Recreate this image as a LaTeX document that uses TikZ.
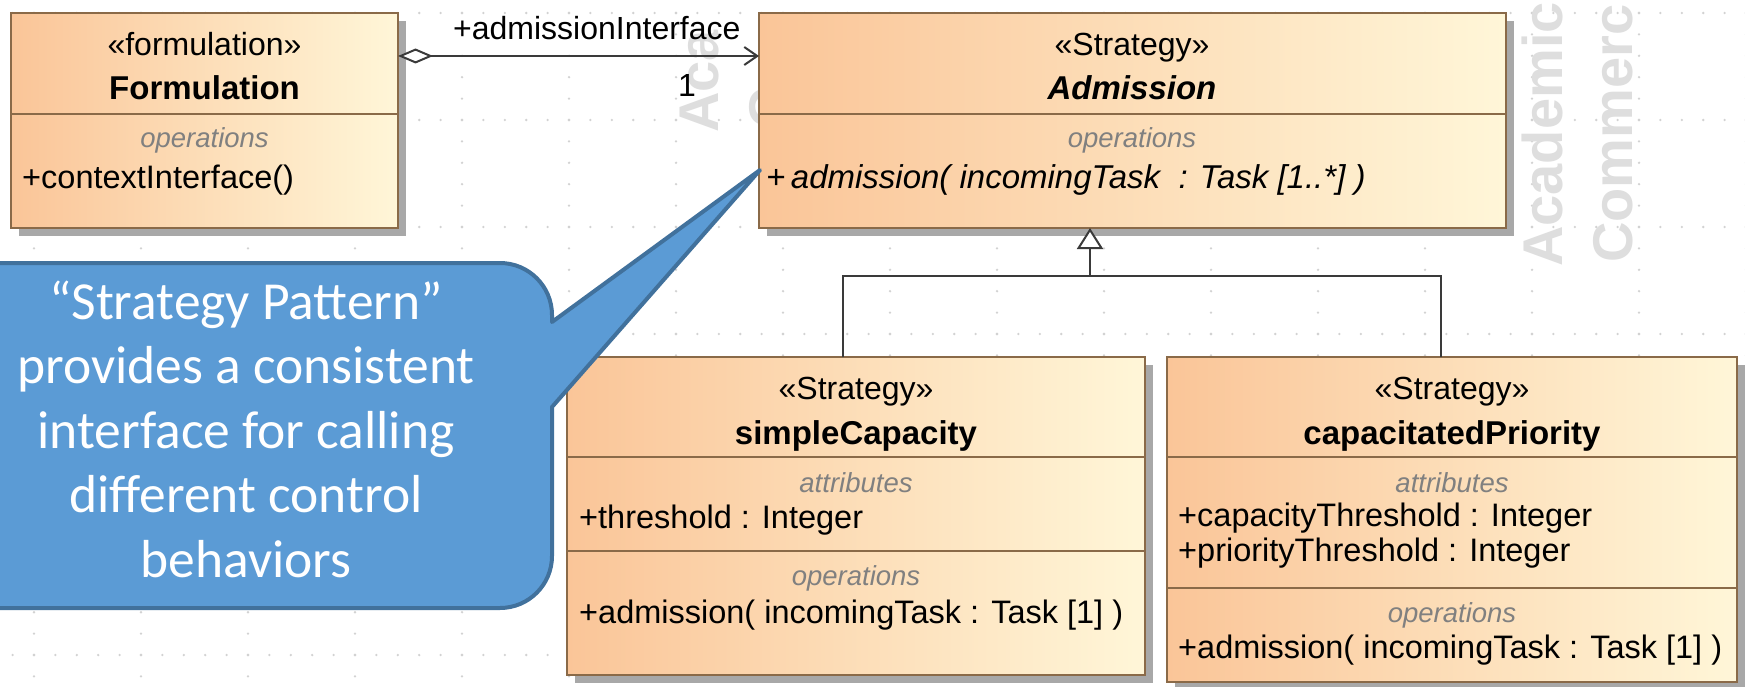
\documentclass[tikz,border=0pt]{standalone}
\usepackage{fontspec}
\setmainfont{Liberation Sans}
\newfontfamily\calfont{Carlito}
\usetikzlibrary{arrows.meta,shadows,calc}
\definecolor{boxL}{HTML}{FAC598}
\definecolor{boxR}{HTML}{FFF6D8}
\definecolor{boxBorder}{HTML}{8A6A48}
\definecolor{shadowC}{HTML}{A8A8A8}
\definecolor{lineC}{HTML}{3A3A3A}
\definecolor{secC}{HTML}{808080}
\definecolor{calloutFill}{HTML}{5B9BD5}
\definecolor{calloutLine}{HTML}{41719C}
\definecolor{wmC}{HTML}{DEDEDE}
\definecolor{dotC}{HTML}{D2D2D2}
\begin{document}
\begin{tikzpicture}[x=1pt,y=-1pt,
  classbox/.style={draw=boxBorder, line width=2pt, left color=boxL, right color=boxR,
    inner sep=0pt, outer sep=0pt, anchor=north west,
    drop shadow={shadow xshift=8pt, shadow yshift=-8pt, fill=shadowC, opacity=1}},
  sepline/.style={draw=boxBorder, line width=2pt},
  ctext/.style={font=\fontsize{32}{38}\selectfont, inner sep=0pt, anchor=base, text=black},
  cname/.style={font=\fontsize{33}{38}\selectfont\bfseries, inner sep=0pt, anchor=base, text=black},
  sect/.style={font=\fontsize{27.5}{32}\selectfont\itshape, inner sep=0pt, anchor=base, text=secC},
  member/.style={font=\fontsize{32.5}{38}\selectfont, inner sep=0pt, anchor=base west, text=black},
  umlline/.style={draw=lineC, line width=2pt},
  wm/.style={font=\fontsize{56}{60}\selectfont\bfseries, text=wmC, inner sep=0pt, rotate=90, anchor=base west},
  callout/.style={fill=calloutFill, draw=calloutLine, line width=4pt, line join=round},
  calltext/.style={font=\calfont\fontsize{53.5}{64.5}\selectfont, text=white, align=center, inner sep=0pt}
]
\useasboundingbox (0,0) rectangle (1745,687);
\clip (0,0) rectangle (1745,687);
\fill[white] (0,0) rectangle (1745,687);
% dotted grid
\foreach \r in {13,120,...,655}{
  \foreach \i in {0,...,81}{\fill[dotC] ({12.6+21.4*\i},\r) circle (1.3pt);}
}
\foreach \c in {0,...,16}{
  \foreach \j in {0,...,31}{\fill[dotC] ({34+107*\c},{13+21.4*\j}) circle (1.3pt);}
}
% watermarks
\node[wm] (wmA1) at (718,133) {Aca};
\node[wm] (wmC1) at (788,129) {C};
\node[wm] (wmA2) at (1562,267) {Academic};
\node[wm] (wmC2) at (1632,263) {Commerc};
% class boxes
\node[classbox, minimum width=387pt, minimum height=215pt] (form) at (11,13) {};
\node[classbox, minimum width=747pt, minimum height=215pt] (adm) at (759,13) {};
\node[classbox, minimum width=578pt, minimum height=318pt] (sc) at (567,357) {};
\node[classbox, minimum width=570pt, minimum height=325pt] (cp) at (1167,357) {};
% separators
\draw[sepline] (11,114) -- (398,114);
\draw[sepline] (759,114) -- (1506,114);
\draw[sepline] (567,457) -- (1145,457);
\draw[sepline] (567,551) -- (1145,551);
\draw[sepline] (1167,457) -- (1737,457);
\draw[sepline] (1167,588) -- (1737,588);
% Formulation
\node[ctext] (f1) at (204.5,56) {«formulation»};
\node[cname] (f2) at (204.5,100) {Formulation};
\node[sect] (f3) at (204.5,148) {operations};
\node[member] (f4) at (22,189) {+contextInterface()};
% Admission
\node[ctext] (a1) at (1132,56) {«Strategy»};
\node[cname, font=\fontsize{33}{38}\selectfont\bfseries\itshape] (a2) at (1132,100) {Admission};
\node[sect] (a3) at (1132,148) {operations};
\node[member, font=\fontsize{33}{38}\selectfont\itshape] (a4) at (766,189) {+\,admission( incomingTask\ \ : Task [1..*] )};
% simpleCapacity
\node[ctext] (s1) at (856,399) {«Strategy»};
\node[cname] (s2) at (856,444) {simpleCapacity};
\node[sect] (s3) at (856,492) {attributes};
\node[member] (s4) at (579,528) {+threshold : Integer};
\node[sect] (s5) at (856,585) {operations};
\node[member] (s6) at (579,623) {+admission( incomingTask : Task [1] )};
% capacitatedPriority
\node[ctext] (c1) at (1452,399) {«Strategy»};
\node[cname] (c2) at (1452,444) {capacitatedPriority};
\node[sect] (c3) at (1452,492) {attributes};
\node[member] (c4) at (1178,526) {+capacityThreshold : Integer};
\node[member] (c5) at (1178,561) {+priorityThreshold : Integer};
\node[sect] (c6) at (1452,622) {operations};
\node[member] (c7) at (1178,658) {+admission( incomingTask : Task [1] )};
% association
\coordinate (ay) at (0,56);
\draw[umlline, {Diamond[length=35pt,width=15pt,fill=white]}-{Straight Barb[length=13pt,width=18pt]}]
  (form.east |- ay) -- (adm.west |- ay);
\node[ctext, anchor=base west] (lbl1) at (453,40) {+admissionInterface};
\node[ctext] (lbl2) at (687,97) {1};
% generalization
\coordinate (gL) at (843,276);
\coordinate (gM) at (1090,276);
\coordinate (gR) at (1441,276);
\draw[umlline] (gL |- sc.north) -- (gL) -- (gR) -- (gR |- cp.north);
\draw[umlline, -{Triangle[length=21pt,width=26pt,fill=white]}] (gM) -- (gM |- adm.south);
% callout
\draw[callout] (552,322) -- (760,170) -- (552,407) -- (552,556)
  .. controls (552,584.7) and (528.7,608) .. (500,608) -- (-80,608) -- (-80,263) -- (500,263)
  .. controls (528.7,263) and (552,286.3) .. (552,315) -- cycle;
\node[calltext] (ct) at (246,429) {“Strategy Pattern”\\provides a consistent\\interface for calling\\different control\\behaviors};
\end{tikzpicture}
\end{document}
